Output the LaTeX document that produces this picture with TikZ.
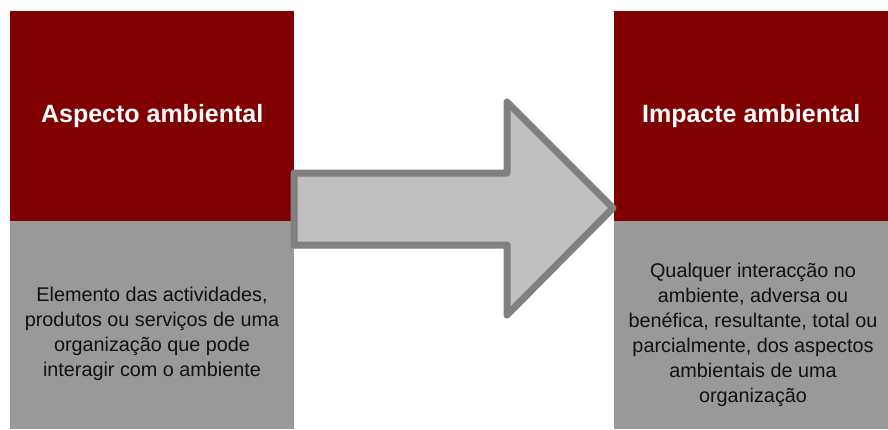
\documentclass[tikz,border=0pt]{standalone}
\usepackage{fontspec}
\setmainfont{Liberation Sans}
\definecolor{boxred}{HTML}{800000}
\definecolor{boxgray}{HTML}{999999}
\definecolor{arrowfill}{HTML}{C0C0C0}
\definecolor{arrowline}{HTML}{808080}
\definecolor{desctext}{HTML}{111111}
\begin{document}
\begin{tikzpicture}[x=1pt,y=-1pt,
  titlebox/.style={fill=boxred, draw=none, anchor=north west, inner sep=0pt,
    minimum height=210pt, text=white, font=\fontsize{25}{29}\selectfont\bfseries},
  descbox/.style={fill=boxgray, draw=none, anchor=north west, inner sep=0pt,
    minimum height=208pt},
  desctextstyle/.style={align=center, text=desctext, inner sep=0pt,
    font=\fontsize{19.8}{25}\selectfont},
  bigarrow/.style={fill=arrowfill, draw=arrowline, line width=7pt, line join=round}
]
\useasboundingbox (0,0) rectangle (888,429);
% left column
\node[titlebox, minimum width=284pt] (aspTitle) at (10,11) {Aspecto ambiental};
\node[descbox, minimum width=284pt] (aspDesc) at (10,221) {};
\node[desctextstyle] (aspText) at (152,334) {Elemento das actividades,\\produtos ou serviços de uma\\organização que pode\\interagir com o ambiente};
% right column
\node[titlebox, minimum width=274pt] (impTitle) at (614,11) {Impacte ambiental};
\node[descbox, minimum width=274pt] (impDesc) at (614,221) {};
\node[desctextstyle] (impText) at (753,335) {Qualquer interacção no\\ambiente, adversa ou\\benéfica, resultante, total ou\\parcialmente, dos aspectos\\ambientais de uma\\organização};
% block arrow
\draw[bigarrow] (294,173) -- (507,173) -- (507,102) -- (613,208) -- (507,315) -- (507,245) -- (294,245) -- cycle;
\end{tikzpicture}
\end{document}
